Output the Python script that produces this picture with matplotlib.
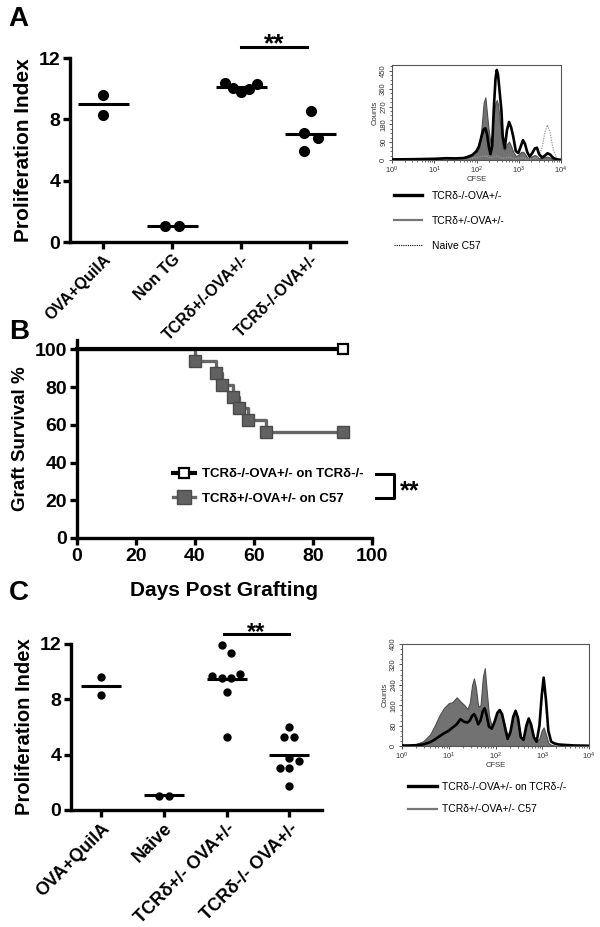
import matplotlib
matplotlib.use('Agg')
import matplotlib.pyplot as plt
import numpy as np
from matplotlib.lines import Line2D
from matplotlib.ticker import LogLocator, NullFormatter, MultipleLocator

plt.rcParams['font.family'] = ['Liberation Sans', 'DejaVu Sans']
plt.rcParams['font.weight'] = 'bold'
plt.rcParams['axes.linewidth'] = 2.4

# ---------------- data ----------------
a_categories = ['OVA+QuilA', 'Non TG', 'TCRδ+/-OVA+/-', 'TCRδ-/-OVA+/-']
a_values = [[9.6, 8.3], [1.05, 1.05], [10.35, 10.07, 9.76, 9.98, 10.3], [8.55, 7.09, 6.8, 5.96]]
a_means = [9.0, 1.05, 10.09, 7.07]
a_jitter = [[0, 0], [-0.1, 0.1], [-0.24, -0.12, 0, 0.12, 0.23], [0.01, -0.09, 0.12, -0.09]]
a_yticks = [0, 4, 8, 12]

c_categories = ['OVA+QuilA', 'Naive', 'TCRδ+/- OVA+/-', 'TCRδ-/- OVA+/-']
c_values = [[9.6, 8.34], [1.03, 1.03],
            [11.93, 11.33, 9.71, 9.57, 9.57, 9.83, 8.5, 5.3],
            [5.98, 5.3, 5.3, 3.73, 3.54, 3.06, 3.06, 1.76]]
c_means = [8.97, 1.05, 9.47, 3.98]
c_jitter = [[0, 0], [-0.07, 0.08], [-0.08, 0.07, -0.23, -0.08, 0.07, 0.22, 0, 0],
            [0, -0.08, 0.08, 0, 0.15, -0.15, 0, 0]]

b_days_ko = [0, 90]
b_surv_ko = [100, 100]
b_days_wt = [0, 40, 47, 49, 53, 55, 58, 64, 90]
b_surv_wt = [100, 93.75, 87.5, 81.25, 75, 68.75, 62.5, 56.25, 56.25]
b_labels = ['TCRδ-/-OVA+/- on TCRδ-/-', 'TCRδ+/-OVA+/- on C57']

# histogram A (log10 CFSE, counts)
ha_log = [0, 0.5, 1.0, 1.3, 1.5, 1.7, 1.8, 1.9, 2.0, 2.06, 2.12, 2.17, 2.21, 2.25, 2.29,
          2.33, 2.37, 2.41, 2.45, 2.48, 2.51, 2.55, 2.59, 2.62, 2.67, 2.72, 2.77, 2.82, 2.87,
          2.93, 2.99, 3.05, 3.1, 3.15, 3.2, 3.26, 3.32, 3.38, 3.43, 3.48, 3.55, 3.62, 3.68,
          3.74, 3.82, 3.9, 4.0]
ha_ko = [3, 4, 6, 9, 8, 10, 15, 25, 45, 70, 120, 155, 160, 130, 70,
         30, 70, 260, 410, 455, 430, 340, 250, 120, 60, 150, 192, 165, 118,
         45, 35, 70, 100, 80, 40, 17, 35, 58, 62, 30, 12, 22, 34,
         28, 10, 3, 1]
ha_wt = [2, 3, 5, 7, 8, 15, 25, 30, 40, 60, 168, 290, 316, 230, 150,
         85, 130, 230, 290, 303, 280, 200, 110, 60, 50, 80, 93, 70, 40,
         20, 25, 40, 42, 30, 12, 10, 20, 25, 20, 8, 10, 15, 17,
         12, 5, 2, 0]
ha_naive = [1, 1, 2, 3, 4, 5, 8, 10, 12, 14, 18, 20, 20, 18, 14,
            10, 12, 16, 18, 20, 18, 14, 10, 8, 10, 12, 14, 12, 8,
            6, 8, 10, 12, 10, 6, 5, 8, 10, 10, 20, 60, 140, 177,
            140, 50, 8, 0]
ha_labels = ['TCRδ-/-OVA+/-', 'TCRδ+/-OVA+/-', 'Naive C57']

# histogram C
hc_log = [0, 0.15, 0.3, 0.45, 0.6, 0.7, 0.8, 0.9, 1.0, 1.08, 1.17, 1.25, 1.33, 1.4, 1.45,
          1.5, 1.54, 1.58, 1.63, 1.68, 1.73, 1.77, 1.81, 1.86, 1.92, 1.98, 2.04, 2.09, 2.14,
          2.2, 2.26, 2.32, 2.38, 2.43, 2.48, 2.54, 2.6, 2.66, 2.71, 2.76, 2.82, 2.88, 2.94,
          2.99, 3.03, 3.08, 3.13, 3.19, 3.26, 3.35, 3.5, 3.7, 4.0]
hc_ko = [2, 2, 3, 6, 15, 25, 38, 50, 60, 72, 85, 105, 95, 92, 100,
         118, 125, 112, 85, 100, 138, 148, 120, 76, 68, 95, 130, 141, 125,
         75, 28, 55, 115, 138, 110, 35, 24, 80, 108, 85, 35, 17, 80,
         200, 268, 180, 60, 17, 10, 6, 4, 2, 1]
hc_wt = [3, 4, 8, 18, 45, 80, 120, 150, 168, 172, 191, 175, 161, 145, 170,
         240, 265, 230, 154, 160, 270, 305, 220, 120, 76, 100, 130, 141, 125,
         80, 35, 60, 115, 136, 110, 35, 30, 75, 102, 80, 30, 17, 30,
         62, 73, 45, 12, 5, 2, 0, 0, 0, 0]
hc_labels = ['TCRδ-/-OVA+/- on TCRδ-/-', 'TCRδ+/-OVA+/- C57']

W, H = 600, 927
fig = plt.figure(figsize=(6, 9.27), dpi=100)


def box(l, t, r, b):
    return [l / W, 1 - b / H, (r - l) / W, (b - t) / H]


def style_prism(ax, tick_size):
    for s in ['top', 'right']:
        ax.spines[s].set_visible(False)
    for s in ['left', 'bottom']:
        ax.spines[s].set_linewidth(2.4)
    ax.tick_params(direction='out', length=5, width=2.4, labelsize=tick_size, pad=2)


def dot_plot(ax, cats, values, means, jitter, ms, half, lab_size):
    for i, (vals, jit) in enumerate(zip(values, jitter)):
        xs = [i + j for j in jit]
        ax.plot(xs, vals, 'o', color='black', ms=ms, zorder=3, clip_on=False)
        ax.hlines(means[i], i - half, i + half, color='black', lw=2.2, zorder=2)
    ax.set_xlim(-0.48, 3.52)
    ax.set_ylim(0, 12)
    ax.set_yticks(a_yticks)
    ax.set_xticks(range(len(cats)))
    ax.set_xticklabels(cats, rotation=45, ha='right', rotation_mode='anchor',
                       fontsize=lab_size, fontweight='bold')
    ax.set_ylabel('Proliferation Index', fontsize=15, fontweight='bold', labelpad=4)


# ---------------- Panel A ----------------
axA = fig.add_axes(box(70, 58, 346, 242))
style_prism(axA, 14)
dot_plot(axA, a_categories, a_values, a_means, a_jitter, 7, 0.37, 11.5)
axA.plot([2.0, 2.96], [12.74, 12.74], color='black', lw=2.2, clip_on=False)
axA.text(2.48, 12.42, '**', ha='center', va='baseline', fontsize=19, fontweight='bold')

# ---------------- Panel C ----------------
axC = fig.add_axes(box(71, 644, 322, 810))
style_prism(axC, 14)
dot_plot(axC, c_categories, c_values, c_means, c_jitter, 5, 0.32, 13)
axC.set_ylabel('Proliferation Index', fontsize=14.5, fontweight='bold', labelpad=4)
axC.plot([1.96, 3.0], [12.73, 12.73], color='black', lw=2.2, clip_on=False)
axC.text(2.47, 12.36, '**', ha='center', va='baseline', fontsize=17, fontweight='bold')

# ---------------- Panel B ----------------
axB = fig.add_axes(box(77, 340, 372, 538))
style_prism(axB, 14)
gray = '#616161'
axB.step(b_days_wt, b_surv_wt, where='post', color='#666666', lw=2.4, zorder=2, clip_on=False)
axB.plot(b_days_wt[1:], b_surv_wt[1:], 's', color=gray, mec='#4a4a4a', ms=9, zorder=3, clip_on=False)
axB.plot(b_days_ko, b_surv_ko, color='black', lw=3, zorder=4, clip_on=False)
axB.plot(b_days_ko[-1:], b_surv_ko[-1:], 's', mfc='white', mec='black', mew=1.6, ms=6.5, zorder=5, clip_on=False)
axB.set_xlim(0, 100)
axB.set_ylim(0, 105)
axB.set_xticks(range(0, 101, 20))
axB.set_yticks(range(0, 101, 20))
axB.set_xlabel('Days Post Grafting', fontsize=15, fontweight='bold', labelpad=12)
axB.set_ylabel('Graft Survival %', fontsize=13.5, fontweight='bold', labelpad=4)
hB = [Line2D([], [], color='black', lw=3, marker='s', mfc='white', mec='black', mew=1.6, ms=6.5),
      Line2D([], [], color='#666666', lw=2.4, marker='s', mfc=gray, mec='#4a4a4a', ms=9.5)]
axB.legend(hB, b_labels, loc='upper left', bbox_to_anchor=(173 / W, 1 - 468 / H),
           bbox_transform=fig.transFigure, frameon=False, borderpad=0, borderaxespad=0,
           handlelength=1.7, handletextpad=0.5, labelspacing=0.95,
           prop=dict(size=9.5, weight='bold'))
axB.plot([101.3, 107.6, 107.6, 101.3], [33.9, 33.9, 21.4, 21.4], color='black', lw=2.2, clip_on=False)
axB.text(109.3, 24.5, '**', ha='left', va='center', fontsize=18, fontweight='bold')


# ---------------- Histograms ----------------
def hist_axes(rect, log, ko, wt, ymax, yticks):
    ax = fig.add_axes(rect)
    x = [10 ** v for v in log]
    ax.fill_between(x, 0, wt, color='#727272', lw=0.8, edgecolor='#4f4f4f', zorder=2)
    ax.plot(x, ko, color='black', lw=1.9, zorder=4)
    ax.set_xscale('log')
    ax.set_xlim(1, 1e4)
    ax.set_ylim(0, ymax)
    for s in ax.spines.values():
        s.set_linewidth(0.8)
        s.set_color('#555555')
    ax.xaxis.set_major_locator(LogLocator(base=10, numticks=10))
    ax.xaxis.set_minor_locator(LogLocator(base=10, subs=np.arange(2, 10), numticks=10))
    ax.xaxis.set_minor_formatter(NullFormatter())
    ax.set_yticks(yticks)
    ax.yaxis.set_minor_locator(MultipleLocator(yticks[1] / 4))
    ax.tick_params(axis='both', which='major', direction='out', length=2.5, width=0.6,
                   labelsize=5.5, pad=1, colors='#333333')
    ax.tick_params(axis='both', which='minor', direction='out', length=1.4, width=0.5, colors='#333333')
    for lab in ax.get_yticklabels():
        lab.set_rotation(90)
        lab.set_va('center')
        lab.set_fontweight('normal')
    for lab in ax.get_xticklabels():
        lab.set_fontweight('normal')
    ax.set_xlabel('CFSE', fontsize=5.5, fontweight='normal', labelpad=0, color='#333333')
    ax.set_ylabel('Counts', fontsize=5.5, fontweight='normal', labelpad=1, color='#333333')
    return ax, x


axHA, xa = hist_axes(box(392, 65, 561, 160), ha_log, ha_ko, ha_wt, 480, [0, 90, 180, 270, 360, 450])
axHA.plot(xa, ha_naive, color='#9a9a9a', lw=0.9, ls=(0, (1, 1)), zorder=3)
hA = [Line2D([], [], color='black', lw=2.4),
      Line2D([], [], color='#777777', lw=1.6),
      Line2D([], [], color='black', lw=0.8, ls=(0, (1, 1)))]
axHA.legend(hA, ha_labels, loc='upper left', bbox_to_anchor=(394 / W, 1 - 191 / H),
            bbox_transform=fig.transFigure, frameon=False, borderpad=0, borderaxespad=0,
            handlelength=2.7, handletextpad=0.9, labelspacing=1.42,
            prop=dict(size=7.5, weight='normal'))

axHC, xc = hist_axes(box(402, 644, 589, 746), hc_log, hc_ko, hc_wt, 400, [0, 80, 160, 240, 320, 400])
hC = [Line2D([], [], color='black', lw=2.4),
      Line2D([], [], color='#777777', lw=1.6)]
axHC.legend(hC, hc_labels, loc='upper left', bbox_to_anchor=(408 / W, 1 - 782 / H),
            bbox_transform=fig.transFigure, frameon=False, borderpad=0, borderaxespad=0,
            handlelength=2.8, handletextpad=0.5, labelspacing=1.2,
            prop=dict(size=7.5, weight='normal'))

# panel letters
fig.text(8 / W, 1 - 6 / H, 'A', fontsize=20, fontweight='bold', va='top')
fig.text(9 / W, 1 - 319 / H, 'B', fontsize=20, fontweight='bold', va='top')
fig.text(9 / W, 1 - 580 / H, 'C', fontsize=20, fontweight='bold', va='top')

fig.savefig('out.png', dpi=100)
